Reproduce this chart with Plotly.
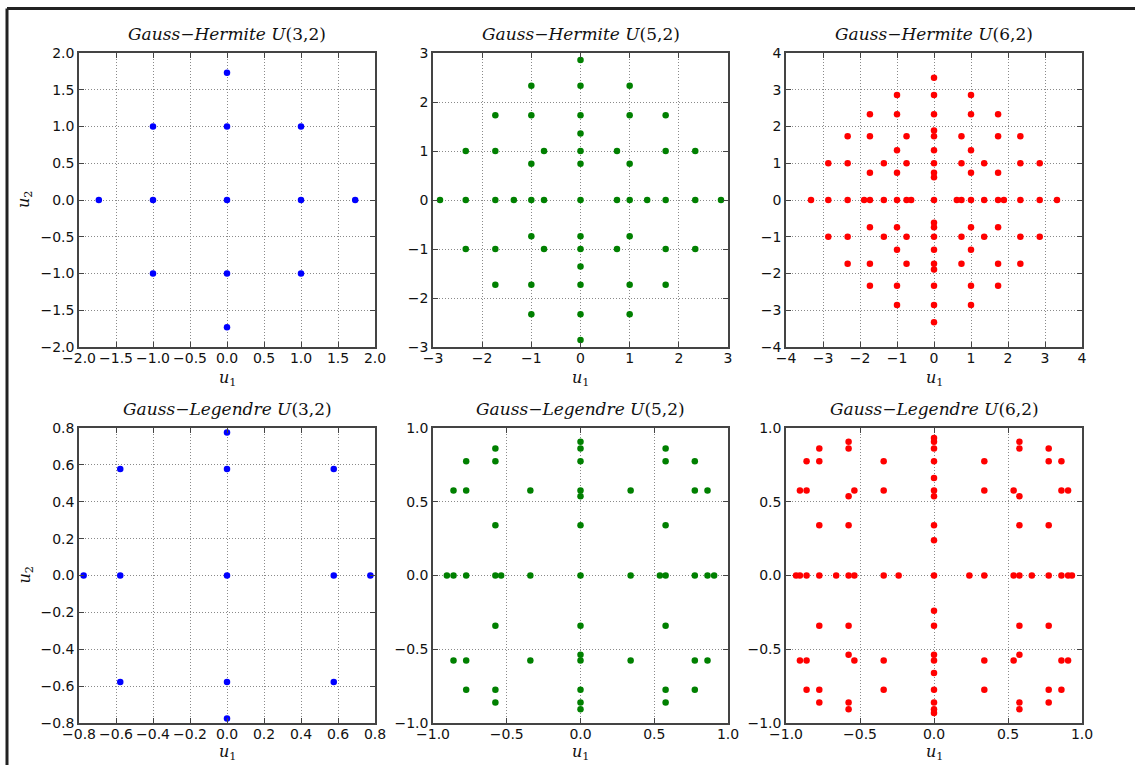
import plotly.graph_objects as go

W, H = 1135, 765

# ---- data: columns of points (x value, list of y values) ----
GH3_cols = [
    (-1.732, [0.0]),
    (-1.0, [-1.0, 0.0, 1.0]),
    (0.0, [-1.732, -1.0, 0.0, 1.0, 1.732]),
    (1.0, [-1.0, 0.0, 1.0]),
    (1.732, [0.0]),
]
GH5_cols = [
    (-2.857, [0.0]),
    (-2.334, [-1.0, 0.0, 1.0]),
    (-1.732, [-1.732, -1.0, 0.0, 1.0, 1.732]),
    (-1.356, [0.0]),
    (-1.0, [-2.334, -1.732, -0.742, 0.0, 0.742, 1.732, 2.334]),
    (-0.742, [-1.0, 0.0, 1.0]),
    (0.0, [-2.857, -2.334, -1.732, -1.356, -1.0, -0.742, 0.0, 0.742, 1.0, 1.356, 1.732, 2.334, 2.857]),
    (0.742, [-1.0, 0.0, 1.0]),
    (1.0, [-2.334, -1.732, -0.742, 0.0, 0.742, 1.732, 2.334]),
    (1.356, [0.0]),
    (1.732, [-1.732, -1.0, 0.0, 1.0, 1.732]),
    (2.334, [-1.0, 0.0, 1.0]),
    (2.857, [0.0]),
]
GH6_cols = [
    (-3.324, [0.0]),
    (-2.857, [-1.0, 0.0, 1.0]),
    (-2.334, [-1.732, -1.0, 0.0, 1.0, 1.732]),
    (-1.889, [0.0]),
    (-1.732, [-2.334, -1.732, -0.742, 0.0, 0.742, 1.732, 2.334]),
    (-1.356, [-1.0, 0.0, 1.0]),
    (-1.0, [-2.857, -2.334, -1.356, -0.742, 0.0, 0.742, 1.356, 2.334, 2.857]),
    (-0.742, [-1.732, -1.0, 0.0, 1.0, 1.732]),
    (-0.617, [0.0]),
    (0.0, [-3.324, -2.857, -2.334, -1.889, -1.732, -1.356, -1.0, -0.742, -0.617, 0.0,
           0.617, 0.742, 1.0, 1.356, 1.732, 1.889, 2.334, 2.857, 3.324]),
    (0.617, [0.0]),
    (0.742, [-1.732, -1.0, 0.0, 1.0, 1.732]),
    (1.0, [-2.857, -2.334, -1.356, -0.742, 0.0, 0.742, 1.356, 2.334, 2.857]),
    (1.356, [-1.0, 0.0, 1.0]),
    (1.732, [-2.334, -1.732, -0.742, 0.0, 0.742, 1.732, 2.334]),
    (1.889, [0.0]),
    (2.334, [-1.732, -1.0, 0.0, 1.0, 1.732]),
    (2.857, [-1.0, 0.0, 1.0]),
    (3.324, [0.0]),
]
GL3_cols = [
    (-0.775, [0.0]),
    (-0.577, [-0.577, 0.0, 0.577]),
    (0.0, [-0.775, -0.577, 0.0, 0.577, 0.775]),
    (0.577, [-0.577, 0.0, 0.577]),
    (0.775, [0.0]),
]
GL5_cols = [
    (-0.906, [0.0]),
    (-0.861, [-0.577, 0.0, 0.577]),
    (-0.775, [-0.775, -0.577, 0.0, 0.577, 0.775]),
    (-0.577, [-0.861, -0.775, -0.340, 0.0, 0.340, 0.775, 0.861]),
    (-0.538, [0.0]),
    (-0.340, [-0.577, 0.0, 0.577]),
    (0.0, [-0.906, -0.861, -0.775, -0.577, -0.538, -0.340, 0.0, 0.340, 0.538, 0.577, 0.775, 0.861, 0.906]),
    (0.340, [-0.577, 0.0, 0.577]),
    (0.538, [0.0]),
    (0.577, [-0.861, -0.775, -0.340, 0.0, 0.340, 0.775, 0.861]),
    (0.775, [-0.775, -0.577, 0.0, 0.577, 0.775]),
    (0.861, [-0.577, 0.0, 0.577]),
    (0.906, [0.0]),
]
GL6_cols = [
    (-0.932, [0.0]),
    (-0.906, [-0.577, 0.0, 0.577]),
    (-0.861, [-0.775, -0.577, 0.0, 0.577, 0.775]),
    (-0.775, [-0.861, -0.775, -0.340, 0.0, 0.340, 0.775, 0.861]),
    (-0.661, [0.0]),
    (-0.577, [-0.906, -0.861, -0.538, -0.340, 0.0, 0.340, 0.538, 0.861, 0.906]),
    (-0.538, [-0.577, 0.0, 0.577]),
    (-0.340, [-0.775, -0.577, 0.0, 0.577, 0.775]),
    (-0.239, [0.0]),
    (0.0, [-0.932, -0.906, -0.861, -0.775, -0.661, -0.577, -0.538, -0.340, -0.239, 0.0,
           0.239, 0.340, 0.538, 0.577, 0.661, 0.775, 0.861, 0.906, 0.932]),
    (0.239, [0.0]),
    (0.340, [-0.775, -0.577, 0.0, 0.577, 0.775]),
    (0.538, [-0.577, 0.0, 0.577]),
    (0.577, [-0.906, -0.861, -0.538, -0.340, 0.0, 0.340, 0.538, 0.861, 0.906]),
    (0.661, [0.0]),
    (0.775, [-0.861, -0.775, -0.340, 0.0, 0.340, 0.775, 0.861]),
    (0.861, [-0.775, -0.577, 0.0, 0.577, 0.775]),
    (0.906, [-0.577, 0.0, 0.577]),
    (0.932, [0.0]),
]

titles = [
    "<i>Gauss</i>−<i>Hermite U</i>(3,2)",
    "<i>Gauss</i>−<i>Hermite U</i>(5,2)",
    "<i>Gauss</i>−<i>Hermite U</i>(6,2)",
    "<i>Gauss</i>−<i>Legendre U</i>(3,2)",
    "<i>Gauss</i>−<i>Legendre U</i>(5,2)",
    "<i>Gauss</i>−<i>Legendre U</i>(6,2)",
]
panels = [GH3_cols, GH5_cols, GH6_cols, GL3_cols, GL5_cols, GL6_cols]
colors = ["#0000ff", "#008000", "#ff0000", "#0000ff", "#008000", "#ff0000"]
ranges = [(-2, 2), (-3, 3), (-4, 4), (-0.8, 0.8), (-1, 1), (-1, 1)]
dticks = [0.5, 1, 1, 0.2, 0.5, 0.5]
fmts = [".1f", "d", "d", ".1f", ".1f", ".1f"]

# ---- layout (pixel boxes) ----
col_px = [(79, 375), (433, 728), (786, 1082)]
row_px = [(53, 347), (428, 723)]
xlabel_off = [31, 29]

fig = go.Figure()
annotations = []
for k, cols in enumerate(panels):
    r, c = divmod(k, 3)
    xs, ys = [], []
    for xv, yl in cols:
        for yv in yl:
            xs.append(xv)
            ys.append(yv)
    ax = "" if k == 0 else str(k + 1)
    fig.add_trace(go.Scatter(
        x=xs, y=ys, mode="markers", xaxis="x" + ax, yaxis="y" + ax,
        marker=dict(color=colors[k], size=6.5, line=dict(width=0)),
        showlegend=False, cliponaxis=False,
    ))
    x0, x1 = col_px[c]
    y0, y1 = row_px[r]
    lo, hi = ranges[k]
    common = dict(
        range=[lo, hi], dtick=dticks[k], tick0=lo, tickformat=fmts[k],
        showline=True, linecolor="#444", linewidth=1.5, mirror="allticks",
        ticks="inside", ticklen=5, tickwidth=1, tickcolor="#444",
        showgrid=True, gridcolor="#8a8a8a", griddash="1px,2px", gridwidth=1,
        zeroline=False, tickfont=dict(family="DejaVu Sans", size=14, color="#111"),
        fixedrange=True, automargin=False,
    )
    fig.update_layout(**{
        "xaxis" + ax: dict(domain=[x0 / W, x1 / W], anchor="y" + ax,
                           ticklabelstandoff=-3, **common),
        "yaxis" + ax: dict(domain=[1 - y1 / H, 1 - y0 / H], anchor="x" + ax, **common),
    })
    cx = (x0 + x1) / 2 / W
    annotations.append(dict(
        text=titles[k], x=cx, y=1 - (y0 - 19) / H, xref="paper", yref="paper",
        showarrow=False, xanchor="center", yanchor="middle",
        font=dict(family="DejaVu Serif", size=17, color="#111"),
    ))
    annotations.append(dict(
        text="<i>u</i><sub>1</sub>", x=cx, y=1 - (y1 + xlabel_off[r]) / H, xref="paper", yref="paper",
        showarrow=False, xanchor="center", yanchor="middle",
        font=dict(family="DejaVu Serif", size=16, color="#111"),
    ))
    if c == 0:
        annotations.append(dict(
            text="<i>u</i><sub>2</sub>", x=25 / W, y=1 - (y0 + y1) / 2 / H,
            xref="paper", yref="paper", textangle=-90,
            showarrow=False, xanchor="center", yanchor="middle",
            font=dict(family="DejaVu Serif", size=16, color="#111"),
        ))

shapes = [
    dict(type="line", xref="paper", yref="paper", x0=7 / W, x1=1, y0=1 - 8.5 / H, y1=1 - 8.5 / H,
         line=dict(color="#222", width=3)),
    dict(type="line", xref="paper", yref="paper", x0=7 / W, x1=7 / W, y0=0, y1=1 - 8.5 / H,
         line=dict(color="#222", width=3)),
]

fig.update_layout(
    width=W, height=H, margin=dict(l=0, r=0, t=0, b=0, pad=0, autoexpand=False),
    paper_bgcolor="white", plot_bgcolor="white",
    annotations=annotations, shapes=shapes,
)
fig.write_html("out.html", config={"displayModeBar": False},
               post_script="document.body.style.margin='0px';")
